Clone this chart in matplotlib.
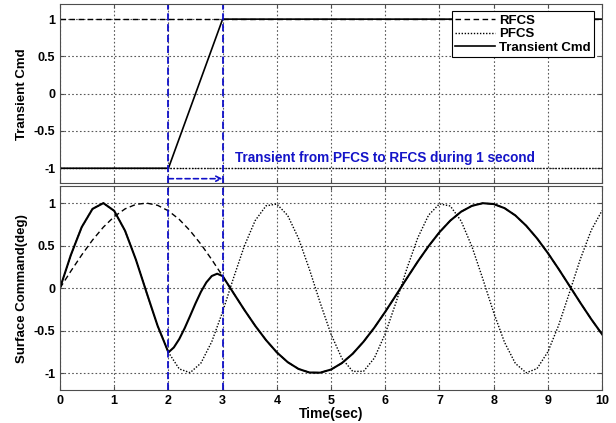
import matplotlib
matplotlib.use('Agg')
import matplotlib.pyplot as plt

plt.rcParams['font.family'] = ['Liberation Sans', 'DejaVu Sans']
plt.rcParams['font.weight'] = 'bold'
plt.rcParams['font.size'] = 9

# time axis (sec), 0.2 s steps
t = [0.0, 0.2, 0.4, 0.6, 0.8, 1.0, 1.2, 1.4, 1.6, 1.8,
     2.0, 2.2, 2.4, 2.6, 2.8, 3.0, 3.2, 3.4, 3.6, 3.8,
     4.0, 4.2, 4.4, 4.6, 4.8, 5.0, 5.2, 5.4, 5.6, 5.8,
     6.0, 6.2, 6.4, 6.6, 6.8, 7.0, 7.2, 7.4, 7.6, 7.8,
     8.0, 8.2, 8.4, 8.6, 8.8, 9.0, 9.2, 9.4, 9.6, 9.8, 10.0]

# surface command (deg)
rfcs = [0.0, 0.199, 0.389, 0.565, 0.717, 0.841, 0.932, 0.985, 1.0, 0.974,
        0.909, 0.808, 0.675, 0.516, 0.335, 0.141, -0.058, -0.256, -0.443, -0.612,
        -0.757, -0.872, -0.952, -0.994, -0.996, -0.959, -0.883, -0.773, -0.631, -0.465,
        -0.279, -0.083, 0.117, 0.312, 0.494, 0.657, 0.794, 0.899, 0.968, 0.999,
        0.989, 0.941, 0.855, 0.734, 0.585, 0.412, 0.223, 0.025, -0.174, -0.366, -0.544]
pfcs = [0.0, 0.389, 0.717, 0.932, 1.0, 0.909, 0.675, 0.335, -0.058, -0.443,
        -0.757, -0.952, -0.996, -0.883, -0.631, -0.279, 0.117, 0.494, 0.794, 0.968,
        0.989, 0.855, 0.585, 0.223, -0.174, -0.544, -0.828, -0.981, -0.980, -0.823,
        -0.537, -0.166, 0.231, 0.592, 0.859, 0.991, 0.966, 0.789, 0.487, 0.108,
        -0.288, -0.638, -0.887, -0.997, -0.948, -0.751, -0.436, -0.050, 0.343, 0.681, 0.913]

# transient output: PFCS before 2 s, blended 2..3 s, RFCS after 3 s
tr_t = [0.0, 0.2, 0.4, 0.6, 0.8, 1.0, 1.2, 1.4, 1.6, 1.8,
        2.0, 2.1, 2.2, 2.3, 2.4, 2.5, 2.6, 2.7, 2.8, 2.9, 3.0,
        3.2, 3.4, 3.6, 3.8, 4.0, 4.2, 4.4, 4.6, 4.8, 5.0, 5.2, 5.4, 5.6, 5.8,
        6.0, 6.2, 6.4, 6.6, 6.8, 7.0, 7.2, 7.4, 7.6, 7.8,
        8.0, 8.2, 8.4, 8.6, 8.8, 9.0, 9.2, 9.4, 9.6, 9.8, 10.0]
tr_val = [0.0, 0.389, 0.717, 0.932, 1.0, 0.909, 0.675, 0.335, -0.058, -0.443,
          -0.757, -0.699, -0.600, -0.472, -0.328, -0.180, -0.044, 0.067, 0.142, 0.169, 0.141,
          -0.058, -0.256, -0.443, -0.612, -0.757, -0.872, -0.952, -0.994, -0.996,
          -0.959, -0.883, -0.773, -0.631, -0.465,
          -0.279, -0.083, 0.117, 0.312, 0.494, 0.657, 0.794, 0.899, 0.968, 0.999,
          0.989, 0.941, 0.855, 0.734, 0.585, 0.412, 0.223, 0.025, -0.174, -0.366, -0.544]

# upper panel: switching command
cmd_t = [0, 2, 3, 10]
cmd_val = [-1, -1, 1, 1]
rfcs_cmd = [1, 1]
pfcs_cmd = [-1, -1]
cmd_span = [0, 10]

t_start, t_end = 2, 3

fig = plt.figure(figsize=(6.16, 4.23), dpi=100)
ax1 = fig.add_axes([0.0974, 0.567, 0.880, 0.423])
ax2 = fig.add_axes([0.0974, 0.078, 0.880, 0.482])

gridstyle = dict(color='0.35', linestyle=(0, (1.5, 2)), linewidth=0.8)

ax1.plot(cmd_span, rfcs_cmd, color='k', ls=(0, (4, 2.5)), lw=1.0, label='RFCS')
ax1.plot(cmd_span, pfcs_cmd, color='k', ls=(0, (1, 1.2)), lw=1.0, label='PFCS')
ax1.plot(cmd_t, cmd_val, color='k', lw=1.2, label='Transient Cmd')

ax2.plot(t, rfcs, color='k', ls=(0, (4, 2.5)), lw=1.0)
ax2.plot(t, pfcs, color='k', ls=(0, (1, 1.2)), lw=1.0)
ax2.plot(tr_t, tr_val, color='k', lw=1.5)

for ax in (ax1, ax2):
    ax.set_xlim(0, 10)
    ax.set_ylim(-1.2, 1.2)
    ax.set_xticks(range(0, 11))
    ax.set_yticks([-1, -0.5, 0, 0.5, 1])
    ax.set_yticklabels(['-1', '-0.5', '0', '0.5', '1'])
    ax.grid(True, **gridstyle)
    ax.set_axisbelow(True)
    ax.tick_params(direction='in', top=True, right=True, length=3, color='0.3', labelsize=9)
    for s in ax.spines.values():
        s.set_color('0.3')
        s.set_linewidth(0.8)
    ax.axvline(t_start, color='#1010c8', ls=(0, (4, 2)), lw=1.3)
    ax.axvline(t_end, color='#1010c8', ls=(0, (4, 2)), lw=1.3)

ax1.tick_params(labelbottom=False)
ax1.set_ylabel('Transient Cmd', fontsize=9.5, fontweight='bold', labelpad=4)
ax2.set_ylabel('Surface Command(deg)', fontsize=9.5, fontweight='bold', labelpad=4)
ax2.set_xlabel('Time(sec)', fontsize=10, fontweight='bold', labelpad=0)

ax1.annotate('', xy=(t_end, -1.14), xytext=(t_start, -1.14),
             arrowprops=dict(arrowstyle='->', color='#1010c8', lw=1.2,
                             linestyle=(0, (3, 2)), shrinkA=0, shrinkB=0))
ax1.text(3.22, -0.86, 'Transient from PFCS to RFCS during 1 second',
         color='#1414c8', fontsize=9.8, fontweight='bold', va='center', ha='left')

leg = ax1.legend(loc='upper right', bbox_to_anchor=(0.985, 0.96), fontsize=9.5,
                 fancybox=False, framealpha=1, edgecolor='k', handlelength=3.0,
                 handletextpad=0.3, borderpad=0.25, labelspacing=0.1, borderaxespad=0)
leg.get_frame().set_linewidth(0.8)

fig.savefig('out.png', dpi=100)
